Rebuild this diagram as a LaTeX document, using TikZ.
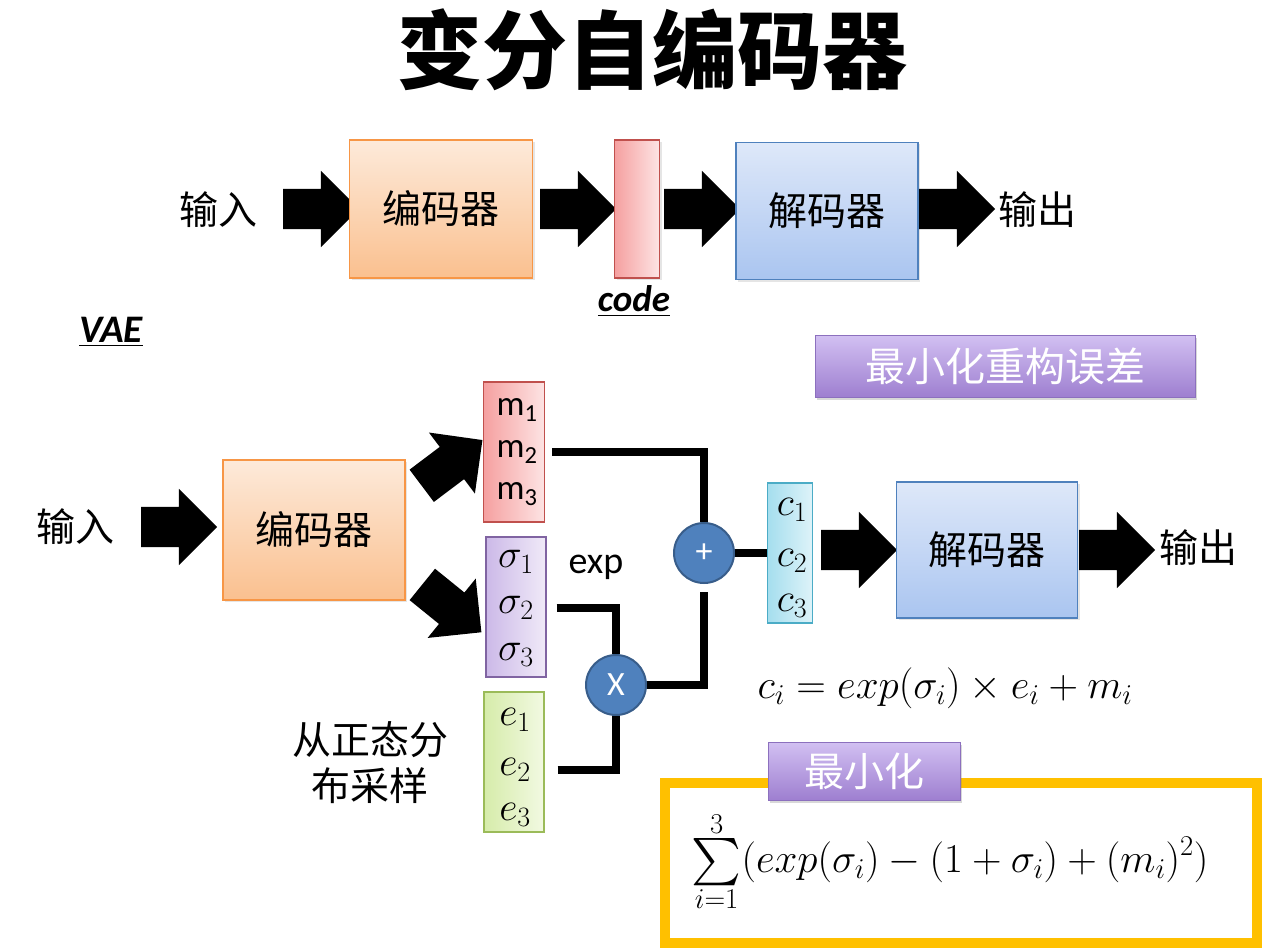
\RequirePackage{fix-cm}
\documentclass[tikz,border=0pt]{standalone}
\usepackage{amsmath}
\usepackage{fontspec}
\setmainfont{Carlito}
\newfontfamily\cjk{Noto Sans CJK SC}
\usepackage{tikz}
\usetikzlibrary{shapes.arrows,shadows}
\definecolor{VaeOrangeEdge}{RGB}{247,150,70}
\definecolor{VaeOrangeTop}{RGB}{253,234,218}
\definecolor{VaeOrangeBot}{RGB}{250,192,143}
\definecolor{VaeBlueEdge}{RGB}{79,129,189}
\definecolor{VaeBlueTop}{RGB}{222,232,249}
\definecolor{VaeBlueBot}{RGB}{170,197,240}
\definecolor{VaeRedEdge}{RGB}{192,80,77}
\definecolor{VaeRedL}{RGB}{245,160,160}
\definecolor{VaeRedR}{RGB}{253,228,228}
\definecolor{VaePurpEdge}{RGB}{128,100,162}
\definecolor{VaePurpL}{RGB}{204,185,232}
\definecolor{VaePurpR}{RGB}{240,234,248}
\definecolor{VaeGreenEdge}{RGB}{155,187,89}
\definecolor{VaeGreenL}{RGB}{214,236,170}
\definecolor{VaeGreenR}{RGB}{242,249,226}
\definecolor{VaeCyanEdge}{RGB}{75,172,198}
\definecolor{VaeCyanL}{RGB}{165,222,238}
\definecolor{VaeCyanR}{RGB}{222,243,249}
\definecolor{VaeOpFill}{RGB}{79,129,189}
\definecolor{VaeOpEdge}{RGB}{56,93,138}
\definecolor{VaeBtnTop}{RGB}{210,192,242}
\definecolor{VaeBtnBot}{RGB}{158,127,208}
\definecolor{VaeBtnEdge}{RGB}{140,112,190}
\definecolor{VaeYellow}{RGB}{255,192,0}

\begin{document}
\begin{tikzpicture}[x=1pt,y=-1pt,
   zh/.style={font=\cjk\fontsize{39}{46}\selectfont},
   box/.style={draw=#1,line width=1.3pt,inner sep=0pt,drop shadow={opacity=0.2,shadow xshift=2pt,shadow yshift=-2pt}},
   vec/.style n args={3}{draw=#1,line width=1.3pt,left color=#2,right color=#3,inner sep=0pt,minimum width=60pt,minimum height=140pt},
   fat/.style={single arrow,fill=black,inner sep=20pt,minimum height=76pt,single arrow head extend=18pt},
   wire/.style={line width=8pt},
   op/.style={circle,fill=VaeOpFill,draw=VaeOpEdge,line width=2pt,minimum size=60pt,inner sep=0pt,text=white,font=\fontsize{34}{34}\selectfont},
   btn/.style={top color=VaeBtnTop,bottom color=VaeBtnBot,draw=VaeBtnEdge,line width=0.8pt,text=white,inner sep=0pt,font=\cjk\fontsize{40}{44}\selectfont,drop shadow={opacity=0.3,shadow xshift=2pt,shadow yshift=-3pt}}]
\fill[white] (0,0) rectangle (1277,952);
\useasboundingbox (0,0) rectangle (1277,952);
\node[font=\cjk\bfseries\fontsize{85}{90}\selectfont] (title) at (652,50) {变分自编码器};
% plain auto-encoder
\node[zh] (in1) at (218,210) {输入};
\node[fat] (a1) at (311,209) {};
\node[box=VaeOrangeEdge,top color=VaeOrangeTop,bottom color=VaeOrangeBot,minimum width=183pt,minimum height=138pt,zh] (enc1) at (441,209) {编码器};
\node[fat] (a2) at (568,209) {};
\node[box=VaeRedEdge,left color=VaeRedL,right color=VaeRedR,minimum width=45pt,minimum height=138pt] (code) at (637,209) {};
\node[font=\fontsize{37}{40}\selectfont\bfseries\itshape] (codelbl) at (634,301) {\underline{code}};
\node[fat] (a3) at (692,209) {};
\node[box=VaeBlueEdge,top color=VaeBlueTop,bottom color=VaeBlueBot,minimum width=182pt,minimum height=137pt,zh] (dec1) at (827,211) {解码器};
\node[fat] (a4) at (947,209) {};
\node[zh] (out1) at (1037,210) {输出};
\node[font=\fontsize{39}{42}\selectfont\bfseries\itshape] (vae) at (111,332) {\underline{VAE}};
\node[btn,minimum width=380pt,minimum height=62pt] (recon) at (1005,366) {最小化重构误差};
% variational auto-encoder
\node[zh] (in2) at (75,527) {输入};
\node[fat] (b1) at (169,527) {};
\node[box=VaeOrangeEdge,top color=VaeOrangeTop,bottom color=VaeOrangeBot,minimum width=182pt,minimum height=140pt,zh] (enc2) at (314,530) {编码器};
\node[fat,rotate=37] (b2) at (444,469) {};
\node[fat,rotate=-39] (b3) at (444,602) {};
\node[vec={VaeRedEdge}{VaeRedL}{VaeRedR},minimum width=61pt] (mvec) at (514,452) {};
\node[vec={VaePurpEdge}{VaePurpL}{VaePurpR}] (svec) at (516,607) {};
\node[vec={VaeGreenEdge}{VaeGreenL}{VaeGreenR}] (evec) at (514,762) {};
\node[vec={VaeCyanEdge}{VaeCyanL}{VaeCyanR},minimum width=45pt] (cvec) at (790,553) {};
\foreach \y/\i in %
{410/1,452/2,494/3} {
   \node[font=\fontsize{35}{35}\selectfont] (m\i) at (517,\y) {m\textsubscript{\i}};
}
\foreach \y/\i in %
{562/1,608/2,655/3} {
   \node[font=\fontsize{40}{40}\selectfont] (s\i) at (516,\y) {$\sigma_{\i}$};
}
\foreach \y/\i in %
{720/1,770/2,815/3} {
   \node[font=\fontsize{40}{40}\selectfont] (e\i) at (515,\y) {$e_{\i}$};
}
\foreach \y/\i in %
{510/1,561/2,606/3} {
   \node[font=\fontsize{40}{40}\selectfont] (c\i) at (792,\y) {$c_{\i}$};
}
\node[font=\fontsize{38}{40}\selectfont] (exp) at (596,567) {exp};
\node[op] (plus) at (704,553) {+};
\node[op] (times) at (616,685) {X};
\draw[wire] ([xshift=7pt]mvec.east |- m2) -| (plus.north);
\draw[wire] (plus.east) -- (cvec.west);
\draw[wire] (times.east) -| ([yshift=-8pt]plus.south);
\draw[wire] ([xshift=10pt]svec.east |- s2) -| (times.north);
\draw[wire] ([xshift=13pt]evec.east |- e2) -| (times.south);
\node[zh,align=center] (sample) at (370,763) {从正态分\\布采样};
\node[fat] (b4) at (849,550) {};
\node[box=VaeBlueEdge,top color=VaeBlueTop,bottom color=VaeBlueBot,minimum width=181pt,minimum height=136pt,zh] (dec2) at (987,550) {解码器};
\node[fat] (b5) at (1107,550) {};
\node[zh] (out2) at (1198,548) {输出};
\node[font=\fontsize{41}{44}\selectfont] (cform) at (945,688) {$c_i=exp(\sigma_i)\times e_i+m_i$};
% loss
\node[draw=VaeYellow,line width=10pt,fill=white,minimum width=592pt,minimum height=160pt] (lossbox) at (961,863) {};
\node[font=\fontsize{41}{46}\selectfont] (loss) at (950,862) {$\displaystyle\mathop{\vcenter{\hbox{\scalebox{1.9}{$\sum$}}}}\limits_{i=1}^{3}(exp(\sigma_i)-(1+\sigma_i)+(m_i)^2)$};
\node[btn,minimum width=192pt,minimum height=58pt] (minlbl) at (864,771) {最小化};
\end{tikzpicture}
\end{document}
